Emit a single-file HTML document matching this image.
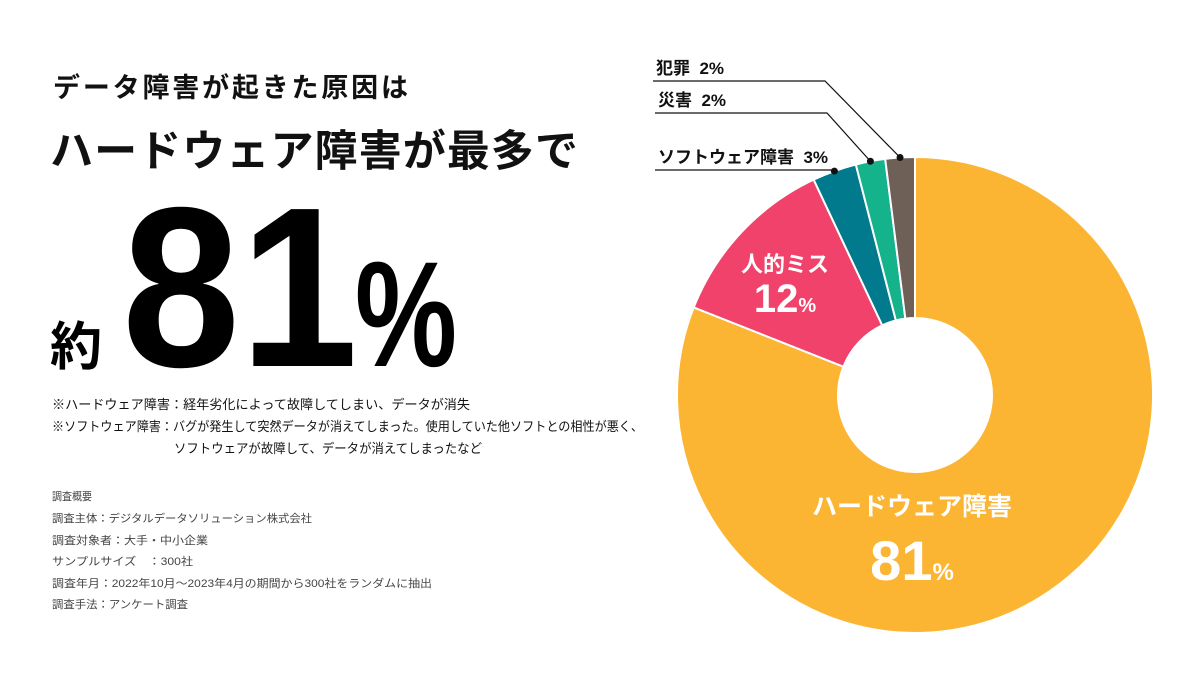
<!DOCTYPE html>
<html><head><meta charset="utf-8">
<style>
html,body{margin:0;padding:0;background:#fff;}
body{width:1200px;height:675px;overflow:hidden;font-family:"Liberation Sans","Noto Sans CJK JP",sans-serif;}
svg text{font-family:"Liberation Sans","Noto Sans CJK JP",sans-serif;}
</style></head>
<body>
<svg id="chart" width="1200" height="675" viewBox="0 0 1200 675">
  <text x="53" y="97" font-size="27" font-weight="bold" fill="#111" textLength="355">データ障害が起きた原因は</text>
  <text x="50" y="166" font-size="43" font-weight="bold" fill="#111" textLength="528">ハードウェア障害が最多で</text>
  <text x="50" y="365" font-size="52" font-weight="bold" fill="#000">約</text>
  <text x="122" y="366" font-size="228" font-weight="bold" fill="#000" textLength="236" lengthAdjust="spacingAndGlyphs">81</text>
  <text x="355" y="366" font-size="150" font-weight="bold" fill="#000" textLength="102" lengthAdjust="spacingAndGlyphs">%</text>
  <g font-size="13" fill="#111" lengthAdjust="spacingAndGlyphs">
    <text x="52" y="409" textLength="418" lengthAdjust="spacingAndGlyphs">※ハードウェア障害：経年劣化によって故障してしまい、データが消失</text>
    <text x="52" y="431" textLength="591" lengthAdjust="spacingAndGlyphs">※ソフトウェア障害：バグが発生して突然データが消えてしまった。使用していた他ソフトとの相性が悪く、</text>
    <text x="174" y="453" textLength="308" lengthAdjust="spacingAndGlyphs">ソフトウェアが故障して、データが消えてしまったなど</text>
  </g>
  <g font-size="11" fill="#444">
    <text x="52" y="500" textLength="40" lengthAdjust="spacingAndGlyphs">調査概要</text>
    <text x="52" y="522" textLength="260" lengthAdjust="spacingAndGlyphs">調査主体：デジタルデータソリューション株式会社</text>
    <text x="52" y="544" textLength="156" lengthAdjust="spacingAndGlyphs">調査対象者：大手・中小企業</text>
    <text x="52" y="565" textLength="141" lengthAdjust="spacingAndGlyphs">サンプルサイズ　：300社</text>
    <text x="52" y="587" textLength="380" lengthAdjust="spacingAndGlyphs">調査年月：2022年10月～2023年4月の期間から300社をランダムに抽出</text>
    <text x="52" y="608" textLength="136" lengthAdjust="spacingAndGlyphs">調査手法：アンケート調査</text>
  </g>
  <g id="donut"></g>
  <g id="labels"></g>
</svg>
<script>
const categories = ["ハードウェア障害","人的ミス","ソフトウェア障害","災害","犯罪"];
const values = [81,12,3,2,2];
const colors = ["#FBB532","#F0426B","#007A8C","#14B38B","#6E5F57"];
const NS="http://www.w3.org/2000/svg";
const cx=915, cy=395, R=238, r=77;
const total=values.reduce((a,b)=>a+b,0);
function pt(frac,rad){const a=frac*2*Math.PI;return [cx+rad*Math.sin(a), cy-rad*Math.cos(a)];}
const g=document.getElementById('donut');
const lg=document.getElementById('labels');
let acc=0; const mids=[];
values.forEach((v,i)=>{
  const s=acc/total, e=(acc+v)/total; acc+=v;
  mids.push((s+e)/2);
  const [x1,y1]=pt(s,R),[x2,y2]=pt(e,R),[x3,y3]=pt(e,r),[x4,y4]=pt(s,r);
  const large=(e-s)>0.5?1:0;
  const p=document.createElementNS(NS,'path');
  p.setAttribute('d',`M${x1},${y1}A${R},${R} 0 ${large} 1 ${x2},${y2}L${x3},${y3}A${r},${r} 0 ${large} 0 ${x4},${y4}Z`);
  p.setAttribute('fill',colors[i]);p.setAttribute('stroke','#fff');p.setAttribute('stroke-width','2');
  
  
  g.appendChild(p);
});
function txt(x,y,s,size,anchor,fill,name){const t=document.createElementNS(NS,'text');t.setAttribute('x',x);t.setAttribute('y',y);t.setAttribute('font-size',size);t.setAttribute('font-weight','bold');t.setAttribute('text-anchor',anchor);t.setAttribute('fill',fill);t.innerHTML=s;


lg.appendChild(t);return t;}
[0,1].forEach(i=>{
  const [lx,ly]= i===0?[912,505]:[785,262];
  txt(lx,ly+10,categories[i],i===0?25:22,'middle','#fff','label-'+i);
  txt(lx,ly+(i===0?75:50),values[i]+'<tspan font-size="'+(i===0?24:20)+'">%</tspan>',i===0?56:40,'middle','#fff','value-'+i);
});
const lab=[[2,170,655,835],[3,113,655,827],[4,81,653,825]];
lab.forEach(([i,ly,x0,x1])=>{
  const [dx,dy]=pt(mids[i],R);
  const pl=document.createElementNS(NS,'polyline');
  pl.setAttribute('points',`${x0},${ly} ${x1},${ly} ${dx},${dy}`);
  pl.setAttribute('fill','none');pl.setAttribute('stroke','#111');pl.setAttribute('stroke-width','1.2');
  
  
  lg.appendChild(pl);
  const c=document.createElementNS(NS,'circle');
  c.setAttribute('cx',dx);c.setAttribute('cy',dy);c.setAttribute('r',3.5);c.setAttribute('fill','#111');
  
  
  lg.appendChild(c);
  txt(x0+3,ly-7,categories[i]+'&#160;&#160;'+values[i]+'%',17,'start','#111','outer-label-'+i);
});
</script>
</body></html>
